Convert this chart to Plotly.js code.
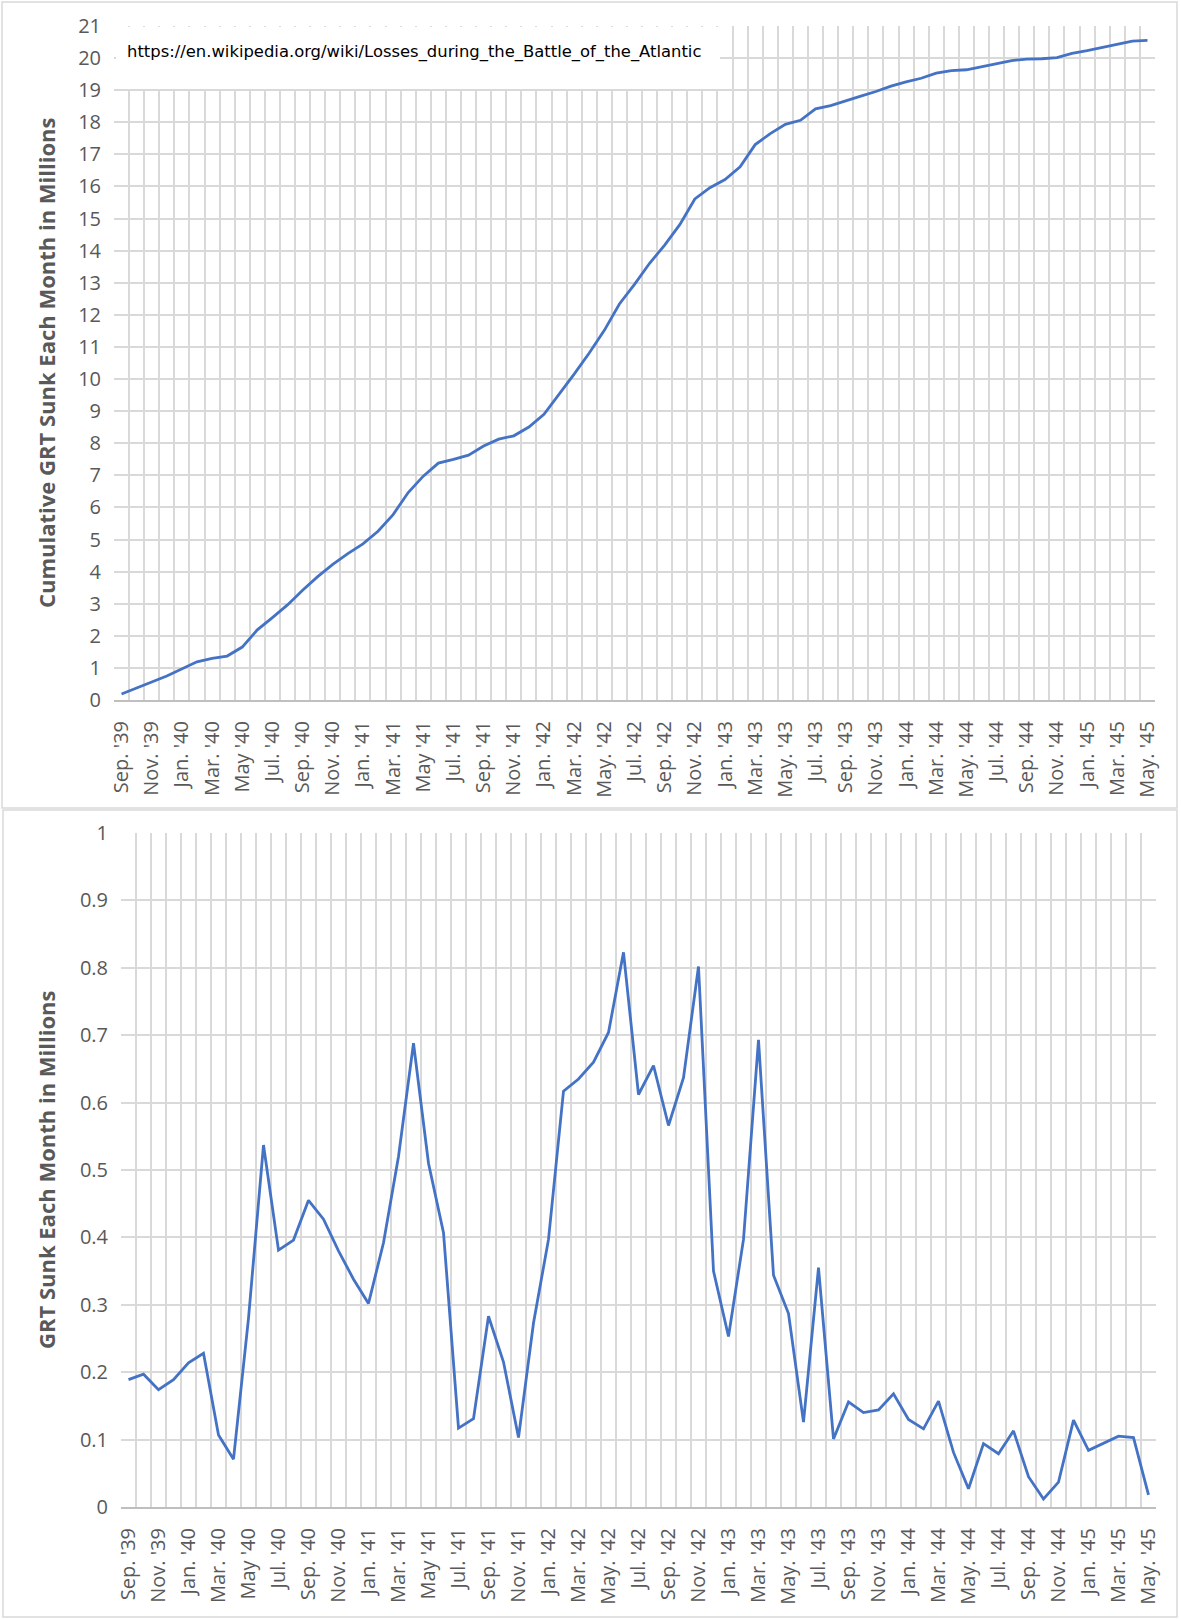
<!DOCTYPE html>
<html>
<head>
<meta charset="utf-8">
<script src="https://cdn.plot.ly/plotly-3.0.1.min.js"></script>
<style>
  html, body { margin: 0; padding: 0; background: #ffffff; }
  #chart { width: 1181px; height: 1619px; }
</style>
</head>
<body>
<div id="chart"></div>
<script>
// Months of the Battle of the Atlantic, Sep. 1939 – May 1945
const months = [
  "Sep. '39", "Oct. '39", "Nov. '39", "Dec. '39",
  "Jan. '40", "Feb. '40", "Mar. '40", "Apr. '40", "May '40", "Jun. '40",
  "Jul. '40", "Aug. '40", "Sep. '40", "Oct. '40", "Nov. '40", "Dec. '40",
  "Jan. '41", "Feb. '41", "Mar. '41", "Apr. '41", "May '41", "Jun. '41",
  "Jul. '41", "Aug. '41", "Sep. '41", "Oct. '41", "Nov. '41", "Dec. '41",
  "Jan. '42", "Feb. '42", "Mar. '42", "Apr. '42", "May. '42", "Jun. '42",
  "Jul. '42", "Aug. '42", "Sep. '42", "Oct. '42", "Nov. '42", "Dec. '42",
  "Jan. '43", "Feb. '43", "Mar. '43", "Apr. '43", "May. '43", "Jun. '43",
  "Jul. '43", "Aug. '43", "Sep. '43", "Oct. '43", "Nov. '43", "Dec. '43",
  "Jan. '44", "Feb. '44", "Mar. '44", "Apr. '44", "May. '44", "Jun. '44",
  "Jul. '44", "Aug. '44", "Sep. '44", "Oct. '44", "Nov. '44", "Dec. '44",
  "Jan. '45", "Feb. '45", "Mar. '45", "Apr. '45", "May. '45"
];

// Gross register tonnage sunk each month, in millions
const monthlyGRT = [
  0.189, 0.197, 0.174, 0.189,
  0.214, 0.228, 0.107, 0.071, 0.280, 0.537,
  0.381, 0.396, 0.455, 0.427, 0.380, 0.338,
  0.302, 0.392, 0.520, 0.688, 0.510, 0.407,
  0.117, 0.131, 0.283, 0.215, 0.103, 0.273,
  0.397, 0.617, 0.635, 0.660, 0.704, 0.823,
  0.612, 0.655, 0.566, 0.637, 0.802, 0.350,
  0.253, 0.397, 0.693, 0.344, 0.287, 0.126,
  0.355, 0.101, 0.156, 0.140, 0.144, 0.168,
  0.130, 0.116, 0.157, 0.081, 0.027, 0.094,
  0.079, 0.113, 0.045, 0.012, 0.037, 0.129,
  0.084, 0.094, 0.105, 0.103, 0.018
];

// Running total of gross register tonnage sunk, in millions
const cumulativeGRT = [
  0.189, 0.386, 0.560, 0.749,
  0.963, 1.191, 1.298, 1.369, 1.649, 2.186,
  2.567, 2.963, 3.418, 3.845, 4.225, 4.563,
  4.865, 5.257, 5.777, 6.465, 6.975, 7.382,
  7.499, 7.630, 7.913, 8.128, 8.231, 8.504,
  8.901, 9.518, 10.153, 10.813, 11.517, 12.340,
  12.952, 13.607, 14.173, 14.810, 15.612, 15.962,
  16.215, 16.612, 17.305, 17.649, 17.936, 18.062,
  18.417, 18.518, 18.674, 18.814, 18.958, 19.126,
  19.256, 19.372, 19.529, 19.610, 19.637, 19.731,
  19.810, 19.923, 19.968, 19.980, 20.017, 20.146,
  20.230, 20.324, 20.429, 20.532, 20.550
];

// Only every second month carries a label on the axis
const monthTickText = months.map((m, i) => (i % 2 === 0 ? m : ""));

const sourceUrl = "https://en.wikipedia.org/wiki/Losses_during_the_Battle_of_the_Atlantic";
const topAxisTitle = "Cumulative GRT Sunk Each Month in Millions";
const bottomAxisTitle = "GRT Sunk Each Month in Millions";

// ---- page geometry helpers (pixels -> paper fractions) ----
const W = 1181, H = 1619;
const px = p => p / W;
const py = p => 1 - p / H;

const LINE_BLUE = "#4472C4";
const GRID = "#D9D9D9";
const TEXT_GREY = "#595959";
const FONT = "'Open Sans', 'Noto Sans', sans-serif";

const tickFont = { family: FONT, size: 20, color: TEXT_GREY };

function monthAxis(domain, anchor) {
  return {
    domain: domain,
    anchor: anchor,
    type: "category",
    categoryorder: "array",
    categoryarray: months,
    range: [-0.5, months.length - 0.5],
    tickmode: "array",
    tickvals: months,
    ticktext: monthTickText,
    tickson: "boundaries",
    tickangle: -90,
    ticks: "",
    ticklabelstandoff: 11,
    tickfont: tickFont,
    showgrid: true,
    gridcolor: GRID,
    gridwidth: 2,
    showline: true,
    linecolor: "#BFBFBF",
    linewidth: 2,
    zeroline: false,
    fixedrange: true
  };
}

function valueAxis(domain, anchor, range, dtick) {
  return {
    domain: domain,
    anchor: anchor,
    range: range,
    tick0: 0,
    dtick: dtick,
    ticks: "",
    ticklabelstandoff: 12,
    tickfont: tickFont,
    showgrid: true,
    gridcolor: GRID,
    gridwidth: 2,
    zeroline: false,
    showline: false,
    fixedrange: true
  };
}

const traces = [
  {
    type: "scatter",
    mode: "lines",
    x: months,
    y: cumulativeGRT,
    xaxis: "x",
    yaxis: "y",
    line: { color: LINE_BLUE, width: 2.8 },
    hoverinfo: "x+y"
  },
  {
    type: "scatter",
    mode: "lines",
    x: months,
    y: monthlyGRT,
    xaxis: "x2",
    yaxis: "y2",
    line: { color: LINE_BLUE, width: 2.8 },
    hoverinfo: "x+y"
  }
];

const layout = {
  width: W,
  height: H,
  margin: { l: 0, r: 0, t: 0, b: 0 },
  paper_bgcolor: "#ffffff",
  plot_bgcolor: "#ffffff",
  showlegend: false,
  xaxis: monthAxis([px(114), px(1155)], "y"),
  yaxis: valueAxis([py(700), py(26)], "x", [0, 21], 1),
  xaxis2: monthAxis([px(121), px(1156)], "y2"),
  yaxis2: valueAxis([py(1507), py(833)], "x2", [0, 1], 0.1),
  shapes: [
    // outer frames of the two charts
    { type: "rect", xref: "paper", yref: "paper",
      x0: px(2), x1: px(1177), y0: py(808), y1: py(2),
      line: { color: GRID, width: 1.5 }, fillcolor: "rgba(0,0,0,0)", layer: "below" },
    { type: "rect", xref: "paper", yref: "paper",
      x0: px(3), x1: px(1177), y0: py(1617), y1: py(810),
      line: { color: GRID, width: 1.5 }, fillcolor: "rgba(0,0,0,0)", layer: "below" },
    // white text box holding the source link
    { type: "rect", xref: "paper", yref: "paper",
      x0: px(116), x1: px(720), y0: py(89), y1: py(27),
      line: { width: 0 }, fillcolor: "#ffffff", layer: "above" }
  ],
  annotations: [
    { xref: "paper", yref: "paper", x: px(125), y: py(52),
      xanchor: "left", yanchor: "middle", showarrow: false,
      text: sourceUrl,
      font: { family: "'DejaVu Sans', Verdana, sans-serif", size: 16.4, color: "#000000" } },
    { xref: "paper", yref: "paper", x: px(46), y: py(363),
      xanchor: "center", yanchor: "middle", showarrow: false, textangle: -90,
      text: "<b>" + topAxisTitle + "</b>",
      font: { family: FONT, size: 22, color: TEXT_GREY } },
    { xref: "paper", yref: "paper", x: px(46), y: py(1170),
      xanchor: "center", yanchor: "middle", showarrow: false, textangle: -90,
      text: "<b>" + bottomAxisTitle + "</b>",
      font: { family: FONT, size: 22, color: TEXT_GREY } }
  ]
};

Plotly.newPlot("chart", traces, layout, { displayModeBar: false, staticPlot: true });
</script>
</body>
</html>
